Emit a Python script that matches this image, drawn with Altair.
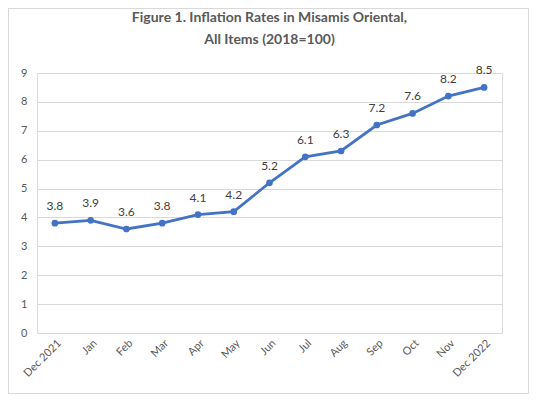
import altair as alt
import pandas as pd

months = ["Dec 2021", "Jan", "Feb", "Mar", "Apr", "May", "Jun", "Jul", "Aug",
          "Sep", "Oct", "Nov", "Dec 2022"]
rates = [3.8, 3.9, 3.6, 3.8, 4.1, 4.2, 5.2, 6.1, 6.3, 7.2, 7.6, 8.2, 8.5]

df = pd.DataFrame({"month": months, "rate": rates})

FONT = "Lato"
BLUE = "#4472C4"

x = alt.X("month:O", sort=months, title=None,
          axis=alt.Axis(labelAngle=-45, labelColor="#595959", labelFontSize=11,
                        labelFont=FONT, ticks=False, domain=False, labelPadding=4,
                        grid=False))
y = alt.Y("rate:Q", title=None,
          scale=alt.Scale(domain=[0, 9], nice=False),
          axis=alt.Axis(values=list(range(10)), labelColor="#595959", labelFontSize=11,
                        labelFont=FONT, ticks=False, domain=False, labelPadding=10,
                        gridColor="#d9d9d9", gridWidth=1))

base = alt.Chart(df).encode(x=x, y=y)

line = base.mark_line(color=BLUE, strokeWidth=2.8)
pts = base.mark_point(color=BLUE, filled=True, size=45, opacity=1)
labels = base.mark_text(dy=-17, fontSize=12, font=FONT, color="#404040").encode(
    text=alt.Text("rate:Q", format=".1f"))

frame = alt.Chart(df).mark_rect(fill=None, stroke="#d9d9d9", strokeWidth=1).encode(
    x=alt.value(-28.5), x2=alt.value(491.5), y=alt.value(-64.5), y2=alt.value(320.5))

chart = alt.layer(frame, line, pts, labels).properties(
    width=465, height=260,
    title=alt.TitleParams(
        text=["Figure 1. Inflation Rates in Misamis Oriental,", "All Items (2018=100)"],
        font=FONT, fontSize=14, fontWeight="bold", color="#595959",
        anchor="middle", offset=0, dy=39, lineHeight=22),
    autosize=alt.AutoSizeParams(type="none"),
    padding={"left": 29, "top": 65, "right": 27, "bottom": 61},
).configure_view(stroke=None).configure(background="white")

chart.save("out.html", embed_options={"renderer": "svg", "actions": False})
